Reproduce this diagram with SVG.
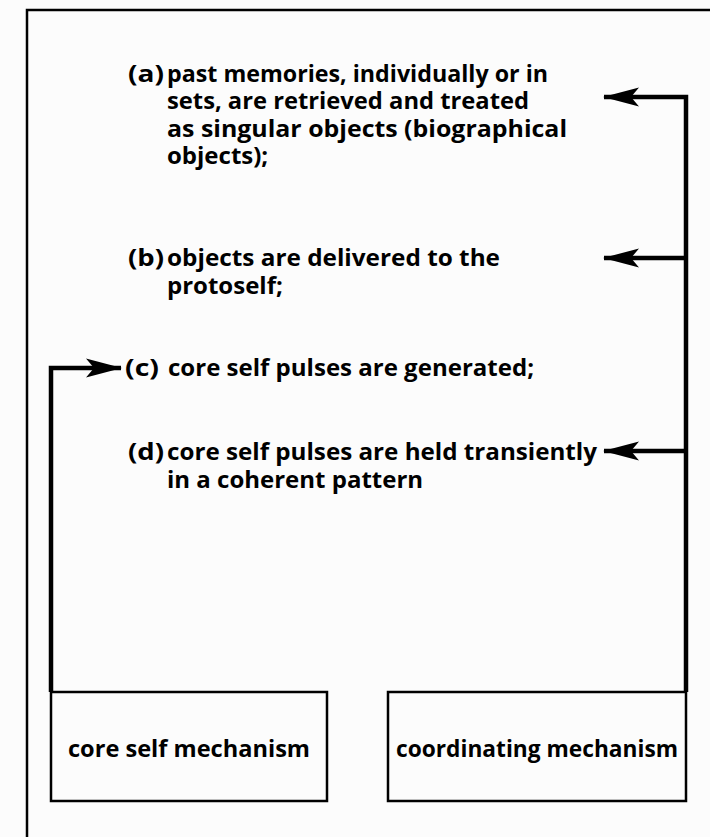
<svg xmlns="http://www.w3.org/2000/svg" width="710" height="837" viewBox="0 0 710 837">
  <style>
    .t { font-family: "Open Sans", "DejaVu Sans", sans-serif; font-weight: bold; font-size: 24px; fill: #000; }
    .box { fill: none; stroke: #000; stroke-width: 2.5; }
    .frame { fill: none; stroke: #000; stroke-width: 2.5; }
    .conn { fill: none; stroke: #000; stroke-width: 4.5; stroke-linejoin: miter; }
  </style>
  <defs>
    <marker id="arrow" viewBox="0 0 36 20" refX="35" refY="10" markerWidth="36" markerHeight="20" markerUnits="userSpaceOnUse" orient="auto">
      <path d="M0,0.5 L36,10 L0,19.5 L8,10 Z" fill="#000"/>
    </marker>
  </defs>
  <rect x="0" y="0" width="710" height="837" fill="#fcfcfc"/>
  <g id="frame">
    <path class="frame" d="M27,840 L27,10 L712,10"/>
  </g>
  <g id="item-a">
    <text class="t" x="128" y="82" textLength="36" lengthAdjust="spacingAndGlyphs">(a)</text>
    <text class="t">
      <tspan x="167" y="82" textLength="381" lengthAdjust="spacingAndGlyphs">past memories, individually or in</tspan>
      <tspan x="167" y="109" textLength="362" lengthAdjust="spacingAndGlyphs">sets, are retrieved and treated</tspan>
      <tspan x="167" y="137" textLength="400" lengthAdjust="spacingAndGlyphs">as singular objects (biographical</tspan>
      <tspan x="167" y="164">objects);</tspan>
    </text>
  </g>
  <g id="item-b">
    <text class="t" x="128" y="266" textLength="36" lengthAdjust="spacingAndGlyphs">(b)</text>
    <text class="t">
      <tspan x="167" y="266" textLength="333" lengthAdjust="spacingAndGlyphs">objects are delivered to the</tspan>
      <tspan x="167" y="294">protoself;</tspan>
    </text>
  </g>
  <g id="item-c">
    <text class="t" x="125" y="376" textLength="34" lengthAdjust="spacingAndGlyphs">(c)</text>
    <text class="t" x="168" y="376" textLength="366" lengthAdjust="spacingAndGlyphs">core self pulses are generated;</text>
  </g>
  <g id="item-d">
    <text class="t" x="128" y="460" textLength="36" lengthAdjust="spacingAndGlyphs">(d)</text>
    <text class="t">
      <tspan x="167" y="460" textLength="430" lengthAdjust="spacingAndGlyphs">core self pulses are held transiently</tspan>
      <tspan x="167" y="488">in a coherent pattern</tspan>
    </text>
  </g>
  <g id="core-self-mechanism">
    <rect class="box" x="51" y="692" width="276" height="109"/>
    <text class="t" x="68" y="757" textLength="242" lengthAdjust="spacingAndGlyphs">core self mechanism</text>
  </g>
  <g id="coordinating-mechanism">
    <rect class="box" x="388" y="692" width="298" height="109"/>
    <text class="t" x="396" y="757" textLength="282" lengthAdjust="spacingAndGlyphs">coordinating mechanism</text>
  </g>
  <g id="connectors">
    <path class="conn" d="M686,692 L686,97 L604,97" marker-end="url(#arrow)"/>
    <path class="conn" d="M686,258 L604,258" marker-end="url(#arrow)"/>
    <path class="conn" d="M686,451 L604,451" marker-end="url(#arrow)"/>
    <path class="conn" d="M51,692 L51,368 L121,368" marker-end="url(#arrow)"/>
  </g>
</svg>
